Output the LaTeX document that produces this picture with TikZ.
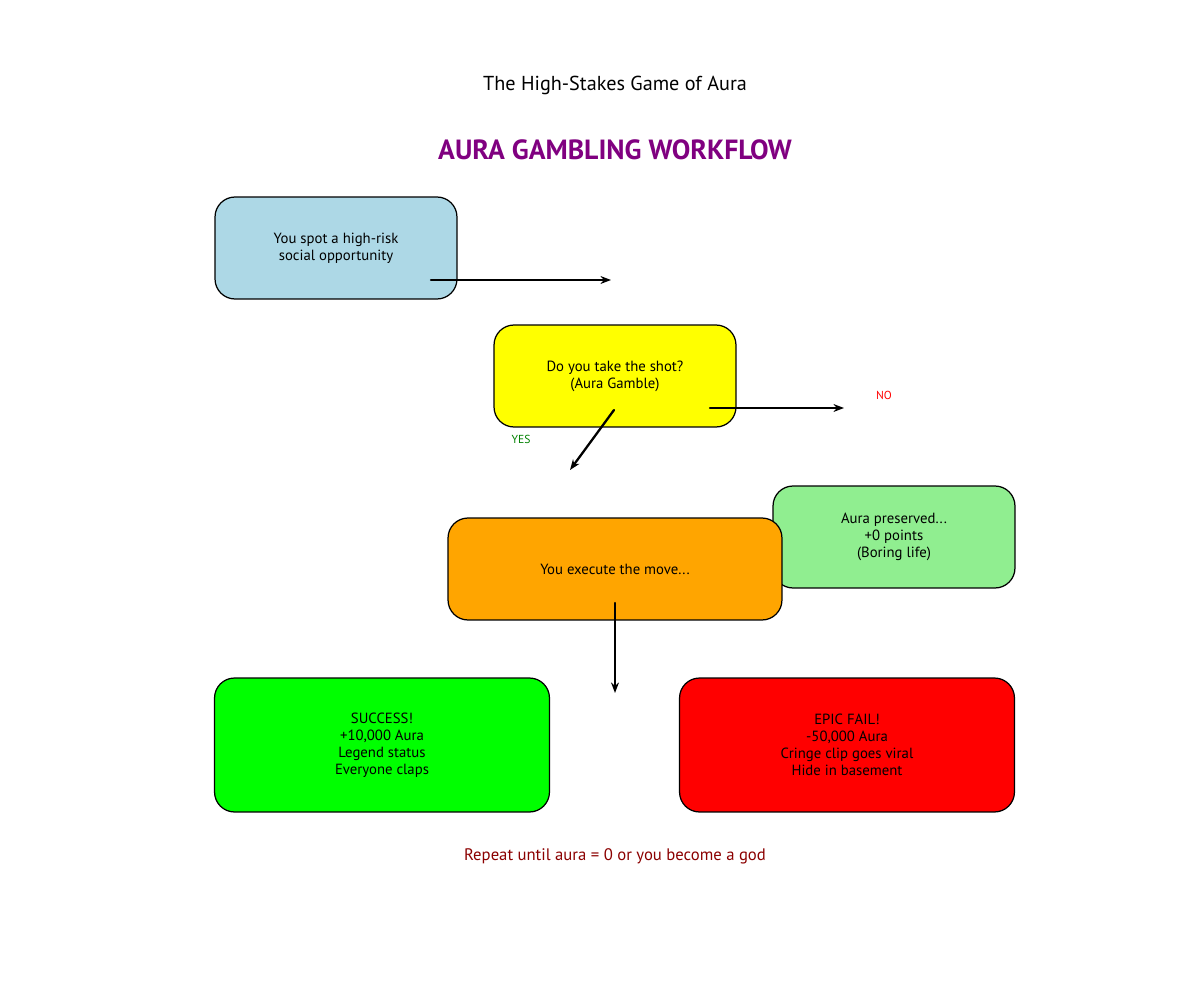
\documentclass[tikz,border=0pt]{standalone}
\usepackage{fontspec}
\setmainfont{PT Sans}
\usetikzlibrary{arrows.meta}
\definecolor{boxblue}{RGB}{173,216,230}
\definecolor{boxyellow}{RGB}{255,255,0}
\definecolor{boxorange}{RGB}{255,165,0}
\definecolor{boxlgreen}{RGB}{144,238,144}
\definecolor{boxgreen}{RGB}{0,255,0}
\definecolor{boxred}{RGB}{255,0,0}
\definecolor{headpurple}{RGB}{128,0,128}
\definecolor{footred}{RGB}{139,0,0}
\definecolor{yesgreen}{RGB}{0,128,0}
\tikzset{
  stepbox/.style={draw, line width=0.7pt, rounded corners=0.4cm, align=center,
    inner sep=0pt, minimum width=4.84cm, minimum height=2.04cm, font=\fontsize{8.4}{9.6}\selectfont},
  flow/.style={-{Stealth[length=6pt,width=4.5pt]}, line width=1.3pt},
}
\begin{document}
\begin{tikzpicture}[x=0.02cm, y=-0.02cm, line cap=round, line join=round]
  \useasboundingbox (0,0) rectangle (1200,1000);
  % --- タイトル ---
  \node (title) at (615,85) {\fontsize{11.5}{13}\selectfont The High-Stakes Game of Aura};
  \node[text=headpurple] (head) at (615,150) {\fontsize{15.8}{18}\selectfont\bfseries AURA GAMBLING WORKFLOW};
  % --- 箱 ---
  \node[stepbox, fill=boxblue] (spot) at (336,248) {You spot a high-risk\\social opportunity};
  \node[stepbox, fill=boxyellow] (shot) at (615,376) {Do you take the shot?\\(Aura Gamble)};
  \node[stepbox, fill=boxlgreen] (keep) at (894,537) {Aura preserved...\\+0 points\\(Boring life)};
  \node[stepbox, fill=boxorange, minimum width=6.68cm] (move) at (615,569) {You execute the move...};
  \node[stepbox, fill=boxgreen, minimum width=6.7cm, minimum height=2.68cm] (win) at (382,745)
    {SUCCESS!\\+10,000 Aura\\Legend status\\Everyone claps};
  \node[stepbox, fill=boxred, minimum width=6.7cm, minimum height=2.68cm] (fail) at (847,745)
    {EPIC FAIL!\\-50,000 Aura\\Cringe clip goes viral\\Hide in basement};
  % --- 矢印の端点 ---
  \coordinate (spotout) at (431,280);
  \coordinate (spotend) at (611,280);
  \coordinate (noout) at (710,408);
  \coordinate (noend) at (844,408);
  \coordinate (yesout) at (614,410);
  \coordinate (yesend) at (570,470);
  \coordinate (moveout) at (615,603);
  \coordinate (moveend) at (615,693);
  % --- 矢印 ---
  \draw[flow] (spotout) -- (spotend);
  \draw[flow] (noout) -- (noend);
  \draw[flow] (yesout) -- (yesend);
  \draw[flow] (moveout) -- (moveend);
  \node[text=red, font=\fontsize{6.6}{7}\selectfont] (nolab) at (884,395) {NO};
  \node[text=yesgreen, font=\fontsize{6.6}{7}\selectfont] (yeslab) at (521,439) {YES};
  % --- 下の一言 ---
  \node[text=footred] (foot) at (615,856) {\fontsize{9.5}{11}\selectfont Repeat until aura = 0 or you become a god};
\end{tikzpicture}
\end{document}
